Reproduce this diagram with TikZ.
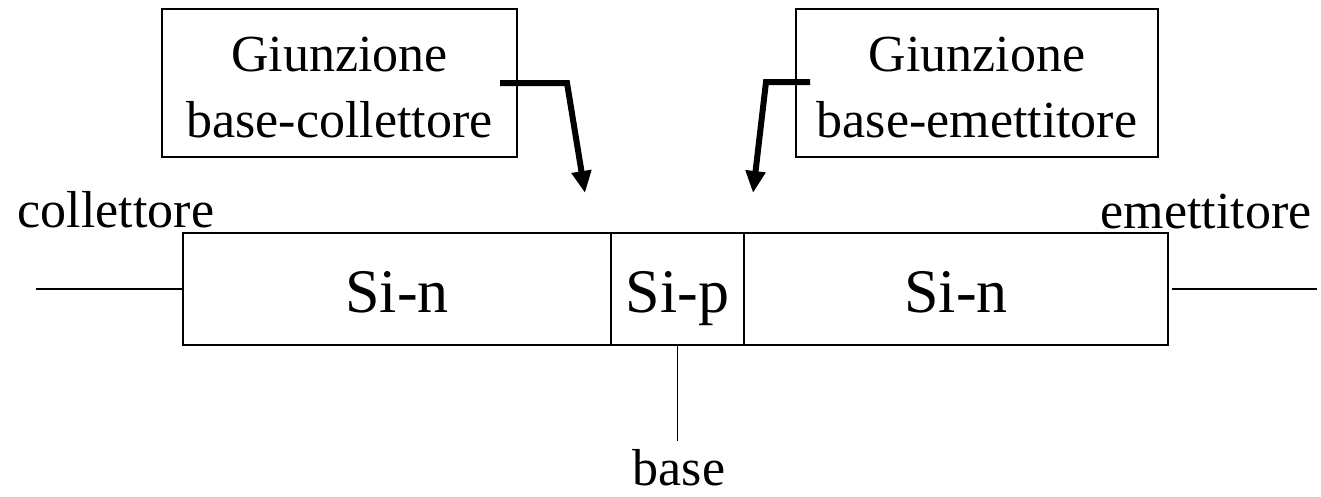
\documentclass[tikz,border=0pt]{standalone}
\usepackage{fontspec}
\setmainfont{Liberation Serif}
\usetikzlibrary{arrows.meta}
\begin{document}
\begin{tikzpicture}[x=1pt,y=-1pt,
  thin line/.style={line width=1.6pt},
  part/.style={draw,thin line,rectangle,inner sep=0pt,minimum height=112pt,
    text height=46pt,text depth=0pt,font={\fontsize{62}{74}\selectfont}},
  junction/.style={draw,thin line,rectangle,inner sep=0pt,minimum height=148pt,
    align=center,font={\fontsize{52}{66}\selectfont}},
  lbl/.style={anchor=base,inner sep=0pt,font={\fontsize{52}{62}\selectfont}},
  pointer/.style={line width=6pt,-{Triangle[length=22pt,width=19pt]}}
]
\useasboundingbox (0,0) rectangle (1321,496);
% bar
\node[part,minimum width=428pt] (sn1) at (397,289) {Si-n};
\node[part,minimum width=133pt] (sp) at (677.5,289) {Si-p};
\node[part,minimum width=424pt] (sn2) at (956,289) {Si-n};
% junction boxes
\node[junction,minimum width=355pt] (jbc) at (339.5,83) {\rule{0pt}{44pt}Giunzione\\base-collettore};
\node[junction,minimum width=362pt] (jbe) at (977,83) {\rule{0pt}{44pt}Giunzione\\base-emettitore};
% terminal labels
\node[lbl] (lc) at (116,227) {collettore};
\node[lbl] (le) at (1206,228) {emettitore};
\node[lbl] (lb) at (679,485) {base};
% leads
\coordinate (cl) at (36,289);
\coordinate (er) at (1317,289);
\coordinate (erl) at (1172,289);
\coordinate (bb) at (677.5,441);
\draw[thin line] (cl) -- (sn1.west);
\draw[thin line] (erl) -- (er);
\draw[thin line] (sp.south) -- (bb);
% pointers
\coordinate (a1s) at (500,83);
\coordinate (a1c) at (567,83);
\coordinate (a1t) at (585,193);
\coordinate (a2s) at (810,82);
\coordinate (a2c) at (766,82);
\coordinate (a2t) at (753,193);
\draw[pointer] (a1s) -- (a1c) -- (a1t);
\draw[pointer] (a2s) -- (a2c) -- (a2t);
\end{tikzpicture}
\end{document}
